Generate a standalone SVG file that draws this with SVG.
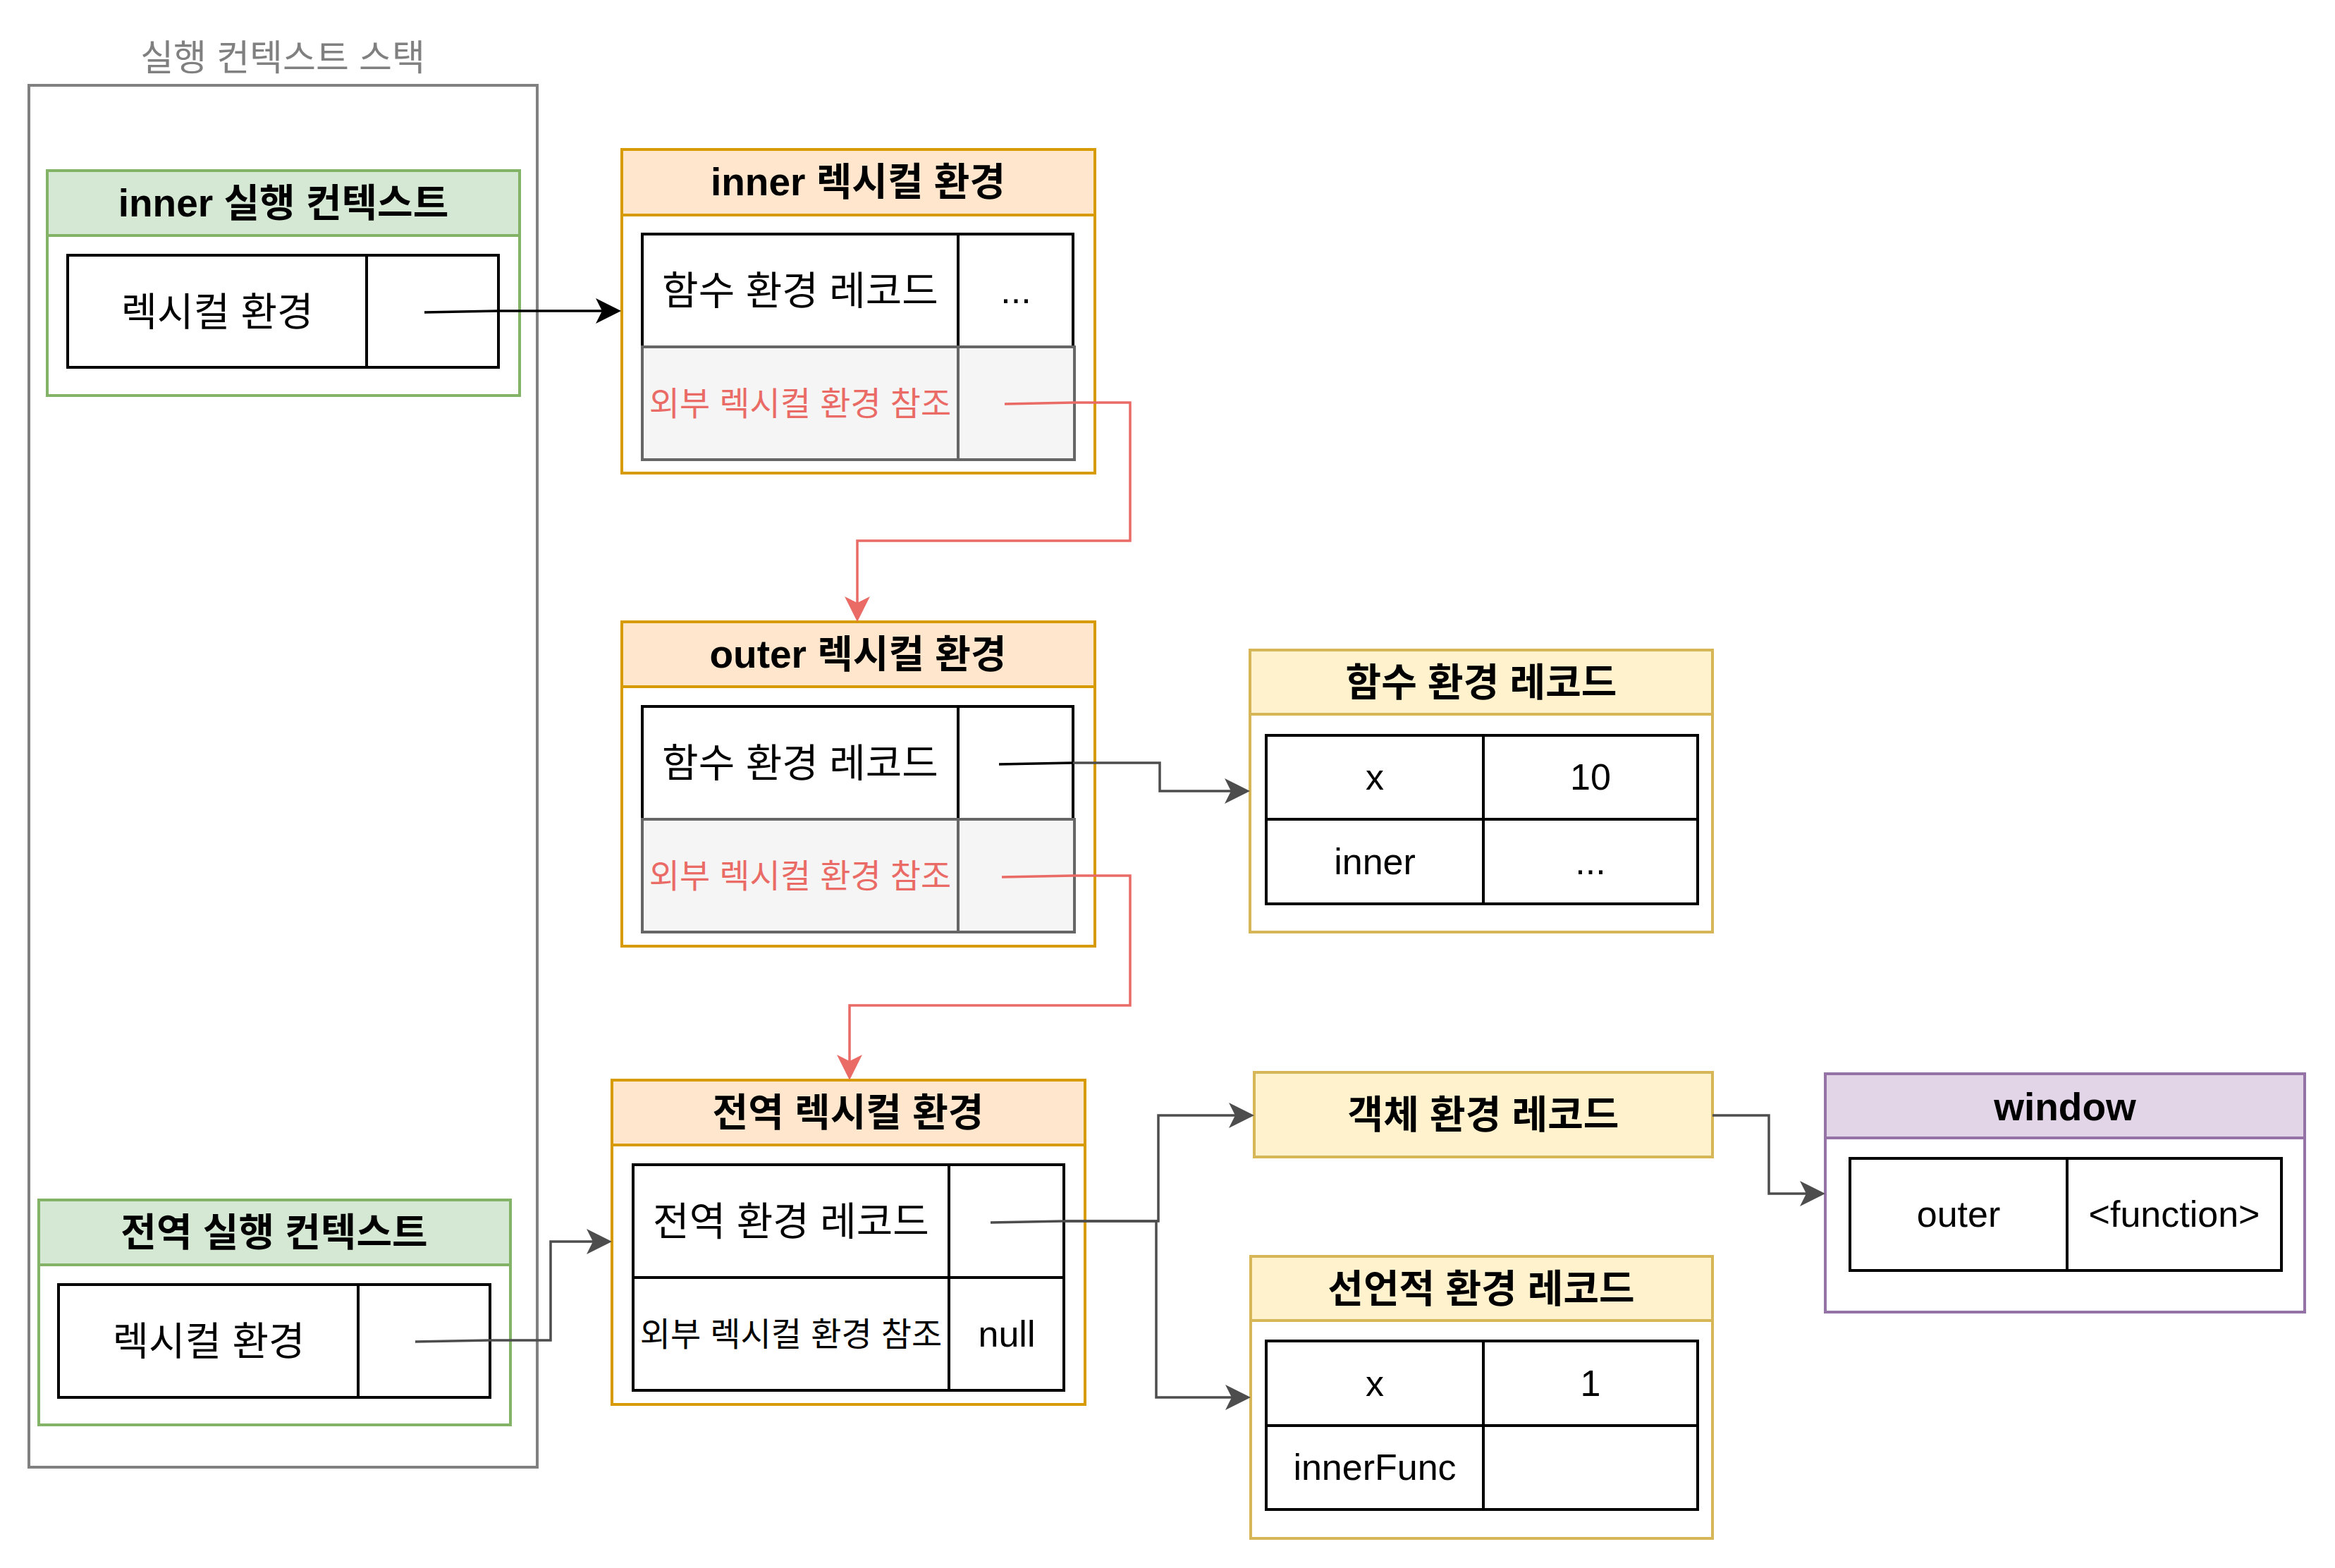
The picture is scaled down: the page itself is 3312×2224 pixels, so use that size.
<svg xmlns="http://www.w3.org/2000/svg" width="3312" height="2224" viewBox="0 0 3312 2224">
<style>
text{font-family:"Liberation Sans","Noto Sans CJK KR",sans-serif;text-anchor:middle;dominant-baseline:central;fill:#000}
.h{font-size:55px;font-weight:700}
.b{font-size:56px}
.l{font-size:52px}
.s{font-size:47px}
.red{fill:#EA6B66}
.title{font-size:51px;fill:#808080}
.frame{fill:#fff;stroke-width:4}
.g{stroke:#82b366}.gh{fill:#d5e8d4;stroke:#82b366;stroke-width:4}
.o{stroke:#d79b00}.oh{fill:#ffe6cc;stroke:#d79b00;stroke-width:4}
.y{stroke:#d6b656}.yh{fill:#fff2cc;stroke:#d6b656;stroke-width:4}
.p{stroke:#9673a6}.ph{fill:#e1d5e7;stroke:#9673a6;stroke-width:4}
.cell{fill:#fff;stroke:#000;stroke-width:4}
.gcell{fill:#f5f5f5;stroke:#666;stroke-width:4}
.e{fill:none;stroke-width:3.5;stroke-linejoin:miter}
.ek{stroke:#000}.er{stroke:#EA6B66}.eg{stroke:#4D4D4D}
</style>
<defs>
<marker id="ak" viewBox="0 0 36 36" refX="9" refY="18" markerWidth="36" markerHeight="36" markerUnits="userSpaceOnUse" orient="auto"><path d="M0,0 L36,18 L0,36 L9,18 Z" fill="#000"/></marker>
<marker id="ar" viewBox="0 0 36 36" refX="9" refY="18" markerWidth="36" markerHeight="36" markerUnits="userSpaceOnUse" orient="auto"><path d="M0,0 L36,18 L0,36 L9,18 Z" fill="#EA6B66"/></marker>
<marker id="ag" viewBox="0 0 36 36" refX="9" refY="18" markerWidth="36" markerHeight="36" markerUnits="userSpaceOnUse" orient="auto"><path d="M0,0 L36,18 L0,36 L9,18 Z" fill="#4D4D4D"/></marker>
</defs>
<rect width="3312" height="2224" fill="#fff"/>

<g id="stack">
<rect x="41" y="121" width="721" height="1960" fill="none" stroke="#808080" stroke-width="4"/>
<text class="title" x="401" y="82">실행 컨텍스트 스택</text>
</g>

<g id="inner-ec">
<rect class="frame g" x="67" y="242" width="670" height="319"/>
<rect class="gh" x="67" y="242" width="670" height="92"/>
<text class="h" x="402" y="288">inner  실행 컨텍스트</text>
<rect class="cell" x="96" y="362" width="424" height="159"/>
<rect class="cell" x="520" y="362" width="187" height="159"/>
<text class="b" x="308" y="442">렉시컬 환경</text>
</g>

<g id="global-ec">
<rect class="frame g" x="55" y="1702" width="669" height="319"/>
<rect class="gh" x="55" y="1702" width="669" height="92"/>
<text class="h" x="389" y="1748">전역 실행 컨텍스트</text>
<rect class="cell" x="83" y="1822" width="425" height="160"/>
<rect class="cell" x="508" y="1822" width="187" height="160"/>
<text class="b" x="296" y="1902">렉시컬 환경</text>
</g>

<g id="inner-lex">
<rect class="frame o" x="882" y="212" width="671" height="459"/>
<rect class="oh" x="882" y="212" width="671" height="93"/>
<text class="h" x="1217" y="258">inner  렉시컬  환경</text>
<rect class="cell" x="911" y="332" width="448" height="160"/>
<rect class="cell" x="1359" y="332" width="163" height="160"/>
<rect class="gcell" x="911" y="492" width="448" height="160"/>
<rect class="gcell" x="1359" y="492" width="165" height="160"/>
<text class="b" x="1135" y="412">함수 환경 레코드</text>
<text class="l" x="1441" y="412">...</text>
<text class="s red" x="1135" y="572">외부 렉시컬 환경 참조</text>
</g>

<g id="outer-lex">
<rect class="frame o" x="882" y="882" width="671" height="460"/>
<rect class="oh" x="882" y="882" width="671" height="92"/>
<text class="h" x="1217" y="928">outer 렉시컬 환경</text>
<rect class="cell" x="911" y="1002" width="448" height="160"/>
<rect class="cell" x="1359" y="1002" width="163" height="160"/>
<rect class="gcell" x="911" y="1162" width="448" height="160"/>
<rect class="gcell" x="1359" y="1162" width="165" height="160"/>
<text class="b" x="1135" y="1082">함수 환경 레코드</text>
<text class="s red" x="1135" y="1242">외부 렉시컬 환경 참조</text>
</g>

<g id="global-lex">
<rect class="frame o" x="868" y="1532" width="671" height="460"/>
<rect class="oh" x="868" y="1532" width="671" height="92"/>
<text class="h" x="1203" y="1578">전역 렉시컬 환경</text>
<rect class="cell" x="898" y="1652" width="448" height="160"/>
<rect class="cell" x="1346" y="1652" width="163" height="160"/>
<rect class="cell" x="898" y="1812" width="448" height="160"/>
<rect class="cell" x="1346" y="1812" width="163" height="160"/>
<text class="b" x="1122" y="1732">전역 환경 레코드</text>
<text class="s" x="1122" y="1892">외부 렉시컬 환경 참조</text>
<text class="l" x="1428" y="1892">null</text>
</g>

<g id="func-env-rec">
<rect class="frame y" x="1773" y="922" width="656" height="400"/>
<rect class="yh" x="1773" y="922" width="656" height="91"/>
<text class="h" x="2101" y="968">함수 환경 레코드</text>
<rect class="cell" x="1796" y="1043" width="308" height="119"/>
<rect class="cell" x="2104" y="1043" width="304" height="119"/>
<rect class="cell" x="1796" y="1162" width="308" height="120"/>
<rect class="cell" x="2104" y="1162" width="304" height="120"/>
<text class="l" x="1950" y="1102">x</text>
<text class="l" x="2256" y="1102">10</text>
<text class="l" x="1950" y="1222">inner</text>
<text class="l" x="2256" y="1222">...</text>
</g>

<g id="obj-env-rec">
<rect class="yh" x="1779" y="1521" width="650" height="120"/>
<text class="h" x="2104" y="1581">객체 환경 레코드</text>
</g>

<g id="decl-env-rec">
<rect class="frame y" x="1774" y="1782" width="655" height="400"/>
<rect class="yh" x="1774" y="1782" width="655" height="91"/>
<text class="h" x="2101" y="1828">선언적 환경 레코드</text>
<rect class="cell" x="1796" y="1902" width="308" height="120"/>
<rect class="cell" x="2104" y="1902" width="304" height="120"/>
<rect class="cell" x="1796" y="2022" width="308" height="119"/>
<rect class="cell" x="2104" y="2022" width="304" height="119"/>
<text class="l" x="1950" y="1962">x</text>
<text class="l" x="2256" y="1962">1</text>
<text class="l" x="1950" y="2081">innerFunc</text>
</g>

<g id="window">
<rect class="frame p" x="2589" y="1523" width="680" height="338"/>
<rect class="ph" x="2589" y="1523" width="680" height="91"/>
<text class="h" x="2929" y="1570">window</text>
<rect class="cell" x="2624" y="1643" width="308" height="159"/>
<rect class="cell" x="2932" y="1643" width="304" height="159"/>
<text class="l" x="2778" y="1722">outer</text>
<text class="l" x="3084" y="1722">&lt;function&gt;</text>
</g>

<g id="connectors">
<path class="e ek" d="M602,443 L707,441 L854,441" marker-end="url(#ak)"/>
<path class="e er" d="M1425,573 L1522,571 L1603,571 L1603,767 L1216,767 L1216,855" marker-end="url(#ar)"/>
<path class="e er" d="M1421,1244 L1522,1242 L1603,1242 L1603,1426 L1205,1426 L1205,1505" marker-end="url(#ar)"/>
<path class="e ek" d="M1417,1084 L1522,1082"/>
<path class="e eg" d="M1522,1082 L1645,1082 L1645,1122 L1746,1122" marker-end="url(#ag)"/>
<path class="e eg" d="M1405,1734 L1509,1732 L1643,1732 L1643,1582 L1752,1582" marker-end="url(#ag)"/>
<path class="e eg" d="M1509,1732 L1640,1732 L1640,1982 L1747,1982" marker-end="url(#ag)"/>
<path class="e eg" d="M589,1903 L695,1901 L781,1901 L781,1761 L841,1761" marker-end="url(#ag)"/>
<path class="e eg" d="M2429,1582 L2509,1582 L2509,1693 L2562,1693" marker-end="url(#ag)"/>
</g>
</svg>
